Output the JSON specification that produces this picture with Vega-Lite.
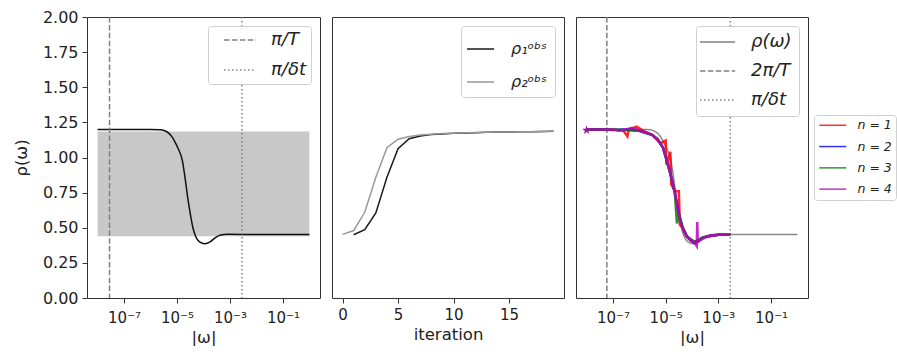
{
  "$schema": "https://vega.github.io/schema/vega-lite/v6.json",
  "padding": {"left": 12, "top": 8, "right": 0, "bottom": 0},
  "background": "white",
  "bounds": "flush",
  "spacing": 12,
  "resolve": {"scale": {"color": "independent", "strokeDash": "independent"}, "legend": {"color": "independent", "strokeDash": "independent"}},
  "config": {
    "font": "DejaVu Sans",
    "view": {"stroke": "#333333", "strokeWidth": 1},
    "axis": {"domain": false, "grid": false, "labelOverlap": false, "labelFont": "DejaVu Sans", "labelFontSize": 15, "labelColor": "#222222", "tickColor": "#333333", "tickSize": 5, "labelPadding": 4, "titleFont": "DejaVu Sans", "titleFontSize": 16.5, "titleFontWeight": "normal", "titleColor": "#222222"},
    "legend": {"labelFont": "DejaVu Sans", "labelFontSize": 18, "labelFontStyle": "italic", "labelColor": "#222222", "fillColor": "white", "strokeColor": "#d0d0d0", "cornerRadius": 3, "padding": 7, "symbolStrokeWidth": 1.5, "symbolSize": 256}
  },
  "datasets": {
    "curve": [
      {"w": 1e-8, "rho": 1.2}, {"w": 1e-7, "rho": 1.2}, {"w": 3.162e-7, "rho": 1.2}, {"w": 1e-6, "rho": 1.2},
      {"w": 2.291e-6, "rho": 1.198}, {"w": 3.981e-6, "rho": 1.185}, {"w": 6.31e-6, "rho": 1.15}, {"w": 8.913e-6, "rho": 1.1},
      {"w": 1.122e-5, "rho": 1.06}, {"w": 1.585e-5, "rho": 0.98}, {"w": 1.995e-5, "rho": 0.86}, {"w": 2.512e-5, "rho": 0.72},
      {"w": 3.162e-5, "rho": 0.6}, {"w": 3.981e-5, "rho": 0.5}, {"w": 5.012e-5, "rho": 0.44}, {"w": 7.079e-5, "rho": 0.4},
      {"w": 1.122e-4, "rho": 0.387}, {"w": 1.778e-4, "rho": 0.4}, {"w": 2.818e-4, "rho": 0.43}, {"w": 4.467e-4, "rho": 0.448},
      {"w": 7.943e-4, "rho": 0.453}, {"w": 3.162e-3, "rho": 0.452}, {"w": 0.1, "rho": 0.452}, {"w": 1, "rho": 0.452}
    ],
    "iters": [
      {"it": 1, "rho": 0.45, "s": "ρ₁ᵒᵇˢ"}, {"it": 2, "rho": 0.486, "s": "ρ₁ᵒᵇˢ"}, {"it": 3, "rho": 0.605, "s": "ρ₁ᵒᵇˢ"}, {"it": 4, "rho": 0.86, "s": "ρ₁ᵒᵇˢ"},
      {"it": 5, "rho": 1.063, "s": "ρ₁ᵒᵇˢ"}, {"it": 6, "rho": 1.134, "s": "ρ₁ᵒᵇˢ"}, {"it": 7, "rho": 1.153, "s": "ρ₁ᵒᵇˢ"}, {"it": 8, "rho": 1.163, "s": "ρ₁ᵒᵇˢ"},
      {"it": 9, "rho": 1.168, "s": "ρ₁ᵒᵇˢ"}, {"it": 10, "rho": 1.172, "s": "ρ₁ᵒᵇˢ"}, {"it": 11, "rho": 1.175, "s": "ρ₁ᵒᵇˢ"}, {"it": 12, "rho": 1.177, "s": "ρ₁ᵒᵇˢ"},
      {"it": 13, "rho": 1.179, "s": "ρ₁ᵒᵇˢ"}, {"it": 14, "rho": 1.181, "s": "ρ₁ᵒᵇˢ"}, {"it": 15, "rho": 1.182, "s": "ρ₁ᵒᵇˢ"}, {"it": 16, "rho": 1.183, "s": "ρ₁ᵒᵇˢ"},
      {"it": 17, "rho": 1.184, "s": "ρ₁ᵒᵇˢ"}, {"it": 18, "rho": 1.185, "s": "ρ₁ᵒᵇˢ"}, {"it": 19, "rho": 1.186, "s": "ρ₁ᵒᵇˢ"},
      {"it": 0, "rho": 0.453, "s": "ρ₂ᵒᵇˢ"}, {"it": 1, "rho": 0.48, "s": "ρ₂ᵒᵇˢ"}, {"it": 2, "rho": 0.61, "s": "ρ₂ᵒᵇˢ"}, {"it": 3, "rho": 0.86, "s": "ρ₂ᵒᵇˢ"},
      {"it": 4, "rho": 1.07, "s": "ρ₂ᵒᵇˢ"}, {"it": 5, "rho": 1.13, "s": "ρ₂ᵒᵇˢ"}, {"it": 6, "rho": 1.15, "s": "ρ₂ᵒᵇˢ"}, {"it": 7, "rho": 1.16, "s": "ρ₂ᵒᵇˢ"},
      {"it": 8, "rho": 1.166, "s": "ρ₂ᵒᵇˢ"}, {"it": 9, "rho": 1.17, "s": "ρ₂ᵒᵇˢ"}, {"it": 10, "rho": 1.173, "s": "ρ₂ᵒᵇˢ"}, {"it": 11, "rho": 1.176, "s": "ρ₂ᵒᵇˢ"},
      {"it": 12, "rho": 1.178, "s": "ρ₂ᵒᵇˢ"}, {"it": 13, "rho": 1.18, "s": "ρ₂ᵒᵇˢ"}, {"it": 14, "rho": 1.181, "s": "ρ₂ᵒᵇˢ"}, {"it": 15, "rho": 1.182, "s": "ρ₂ᵒᵇˢ"},
      {"it": 16, "rho": 1.183, "s": "ρ₂ᵒᵇˢ"}, {"it": 17, "rho": 1.184, "s": "ρ₂ᵒᵇˢ"}, {"it": 18, "rho": 1.185, "s": "ρ₂ᵒᵇˢ"}, {"it": 19, "rho": 1.186, "s": "ρ₂ᵒᵇˢ"}
    ],
    "noisy": [
      {"w": 1e-8, "rho": 1.2, "n": "n = 1"}, {"w": 3.162e-8, "rho": 1.2, "n": "n = 1"}, {"w": 1e-7, "rho": 1.2, "n": "n = 1"},
      {"w": 2.512e-7, "rho": 1.19, "n": "n = 1"}, {"w": 3.548e-7, "rho": 1.15, "n": "n = 1"}, {"w": 3.981e-7, "rho": 1.2, "n": "n = 1"},
      {"w": 7.943e-7, "rho": 1.22, "n": "n = 1"}, {"w": 1.585e-6, "rho": 1.185, "n": "n = 1"}, {"w": 3.162e-6, "rho": 1.16, "n": "n = 1"},
      {"w": 6.31e-6, "rho": 1.1, "n": "n = 1"}, {"w": 1e-5, "rho": 1.12, "n": "n = 1"}, {"w": 1.072e-5, "rho": 0.95, "n": "n = 1"},
      {"w": 1.514e-5, "rho": 1.04, "n": "n = 1"}, {"w": 1.622e-5, "rho": 0.81, "n": "n = 1"}, {"w": 2.239e-5, "rho": 0.76, "n": "n = 1"},
      {"w": 3.162e-5, "rho": 0.76, "n": "n = 1"}, {"w": 3.467e-5, "rho": 0.52, "n": "n = 1"}, {"w": 4.467e-5, "rho": 0.5, "n": "n = 1"},
      {"w": 6.31e-5, "rho": 0.44, "n": "n = 1"}, {"w": 8.913e-5, "rho": 0.41, "n": "n = 1"}, {"w": 1.259e-4, "rho": 0.4, "n": "n = 1"},
      {"w": 1.778e-4, "rho": 0.41, "n": "n = 1"}, {"w": 2.512e-4, "rho": 0.43, "n": "n = 1"}, {"w": 3.981e-4, "rho": 0.44, "n": "n = 1"},
      {"w": 1e-3, "rho": 0.45, "n": "n = 1"}, {"w": 2.818e-3, "rho": 0.45, "n": "n = 1"},
      {"w": 1e-8, "rho": 1.2, "n": "n = 2"}, {"w": 3.162e-8, "rho": 1.2, "n": "n = 2"}, {"w": 1e-7, "rho": 1.195, "n": "n = 2"},
      {"w": 3.162e-7, "rho": 1.2, "n": "n = 2"}, {"w": 1e-6, "rho": 1.19, "n": "n = 2"}, {"w": 3.162e-6, "rho": 1.16, "n": "n = 2"},
      {"w": 5.012e-6, "rho": 1.13, "n": "n = 2"}, {"w": 7.943e-6, "rho": 1.07, "n": "n = 2"}, {"w": 1.122e-5, "rho": 0.97, "n": "n = 2"},
      {"w": 1.585e-5, "rho": 0.87, "n": "n = 2"}, {"w": 2.239e-5, "rho": 0.75, "n": "n = 2"}, {"w": 3.162e-5, "rho": 0.6, "n": "n = 2"},
      {"w": 4.467e-5, "rho": 0.5, "n": "n = 2"}, {"w": 6.31e-5, "rho": 0.44, "n": "n = 2"}, {"w": 8.913e-5, "rho": 0.41, "n": "n = 2"},
      {"w": 1.259e-4, "rho": 0.39, "n": "n = 2"}, {"w": 1.778e-4, "rho": 0.41, "n": "n = 2"}, {"w": 2.512e-4, "rho": 0.43, "n": "n = 2"},
      {"w": 3.981e-4, "rho": 0.44, "n": "n = 2"}, {"w": 1e-3, "rho": 0.45, "n": "n = 2"}, {"w": 2.818e-3, "rho": 0.45, "n": "n = 2"},
      {"w": 1e-8, "rho": 1.2, "n": "n = 3"}, {"w": 1e-7, "rho": 1.2, "n": "n = 3"}, {"w": 1e-6, "rho": 1.19, "n": "n = 3"},
      {"w": 3.162e-6, "rho": 1.16, "n": "n = 3"}, {"w": 5.012e-6, "rho": 1.13, "n": "n = 3"}, {"w": 7.943e-6, "rho": 1.07, "n": "n = 3"},
      {"w": 1.122e-5, "rho": 0.97, "n": "n = 3"}, {"w": 1.585e-5, "rho": 0.87, "n": "n = 3"}, {"w": 2.239e-5, "rho": 0.75, "n": "n = 3"},
      {"w": 2.512e-5, "rho": 0.61, "n": "n = 3"}, {"w": 2.692e-5, "rho": 0.53, "n": "n = 3"}, {"w": 3.162e-5, "rho": 0.6, "n": "n = 3"},
      {"w": 4.467e-5, "rho": 0.5, "n": "n = 3"}, {"w": 6.31e-5, "rho": 0.44, "n": "n = 3"}, {"w": 1.259e-4, "rho": 0.4, "n": "n = 3"},
      {"w": 2.512e-4, "rho": 0.43, "n": "n = 3"}, {"w": 1e-3, "rho": 0.45, "n": "n = 3"}, {"w": 2.818e-3, "rho": 0.45, "n": "n = 3"},
      {"w": 1e-8, "rho": 1.2, "n": "n = 4"}, {"w": 1.585e-8, "rho": 1.2, "n": "n = 4"}, {"w": 3.162e-8, "rho": 1.2, "n": "n = 4"},
      {"w": 6.31e-8, "rho": 1.2, "n": "n = 4"}, {"w": 1e-7, "rho": 1.2, "n": "n = 4"}, {"w": 1.585e-7, "rho": 1.19, "n": "n = 4"},
      {"w": 3.162e-7, "rho": 1.2, "n": "n = 4"}, {"w": 5.012e-7, "rho": 1.21, "n": "n = 4"}, {"w": 7.943e-7, "rho": 1.2, "n": "n = 4"},
      {"w": 1e-6, "rho": 1.19, "n": "n = 4"}, {"w": 1.585e-6, "rho": 1.18, "n": "n = 4"}, {"w": 2.512e-6, "rho": 1.17, "n": "n = 4"},
      {"w": 3.162e-6, "rho": 1.16, "n": "n = 4"}, {"w": 5.012e-6, "rho": 1.13, "n": "n = 4"}, {"w": 6.31e-6, "rho": 1.1, "n": "n = 4"},
      {"w": 7.943e-6, "rho": 1.07, "n": "n = 4"}, {"w": 1e-5, "rho": 1.01, "n": "n = 4"}, {"w": 1.259e-5, "rho": 0.95, "n": "n = 4"},
      {"w": 1.585e-5, "rho": 0.87, "n": "n = 4"}, {"w": 1.995e-5, "rho": 0.79, "n": "n = 4"}, {"w": 2.512e-5, "rho": 0.7, "n": "n = 4"},
      {"w": 3.162e-5, "rho": 0.59, "n": "n = 4"}, {"w": 3.981e-5, "rho": 0.52, "n": "n = 4"}, {"w": 5.012e-5, "rho": 0.47, "n": "n = 4"},
      {"w": 6.31e-5, "rho": 0.44, "n": "n = 4"}, {"w": 7.943e-5, "rho": 0.42, "n": "n = 4"}, {"w": 1e-4, "rho": 0.405, "n": "n = 4"},
      {"w": 1.259e-4, "rho": 0.395, "n": "n = 4"}, {"w": 1.514e-4, "rho": 0.37, "n": "n = 4"}, {"w": 1.585e-4, "rho": 0.54, "n": "n = 4"},
      {"w": 1.66e-4, "rho": 0.4, "n": "n = 4"}, {"w": 1.995e-4, "rho": 0.41, "n": "n = 4"}, {"w": 2.512e-4, "rho": 0.42, "n": "n = 4"},
      {"w": 3.162e-4, "rho": 0.43, "n": "n = 4"}, {"w": 3.981e-4, "rho": 0.44, "n": "n = 4"}, {"w": 6.31e-4, "rho": 0.445, "n": "n = 4"},
      {"w": 1e-3, "rho": 0.45, "n": "n = 4"}, {"w": 1.585e-3, "rho": 0.45, "n": "n = 4"}, {"w": 2.818e-3, "rho": 0.45, "n": "n = 4"}
    ]
  },
  "hconcat": [
    {
      "width": 233, "height": 281,
      "layer": [
        {
          "data": {"values": [{"a": 1e-8, "b": 1, "lo": 0.44, "hi": 1.185}]},
          "mark": {"type": "rect", "color": "#c8c8c8"},
          "encoding": {
            "x": {"field": "a", "type": "quantitative", "scale": {"type": "log", "domain": [3.98e-9, 2.512], "nice": false},
              "axis": {"title": "|ω|", "values": [1e-7, 1e-5, 1e-3, 1e-1], "labelPadding": 7, "labelExpr": "datum.value < 1e-6 ? '10⁻⁷' : datum.value < 1e-4 ? '10⁻⁵' : datum.value < 1e-2 ? '10⁻³' : '10⁻¹'"}},
            "x2": {"field": "b"},
            "y": {"field": "lo", "type": "quantitative", "scale": {"domain": [0, 2], "nice": false},
              "axis": {"title": "ρ(ω)", "values": [0, 0.25, 0.5, 0.75, 1, 1.25, 1.5, 1.75, 2], "format": ".2f", "titlePadding": 13, "labelFontSize": 16}},
            "y2": {"field": "hi"}
          }
        },
        {
          "data": {"name": "curve"},
          "mark": {"type": "line", "color": "#111111", "strokeWidth": 1.5, "interpolate": "monotone"},
          "encoding": {
            "x": {"field": "w", "type": "quantitative"},
            "y": {"field": "rho", "type": "quantitative", "axis": {"title": "ρ(ω)", "values": [0, 0.25, 0.5, 0.75, 1, 1.25, 1.5, 1.75, 2], "format": ".2f", "titlePadding": 13, "labelFontSize": 16}}
          }
        },
        {
          "data": {"values": [{"w": 2.82e-8, "k": "π/T"}, {"w": 2.82e-3, "k": "π/δt"}]},
          "mark": {"type": "rule", "color": "#808080", "strokeWidth": 1.5},
          "encoding": {
            "x": {"field": "w", "type": "quantitative"},
            "strokeDash": {"field": "k", "type": "nominal", "scale": {"domain": ["π/T", "π/δt"], "range": [[5.5, 2.4], [1.5, 2.5]]},
              "legend": {"title": null, "orient": "top-right", "offset": 9, "symbolType": "M0.25,0H4.25", "symbolStrokeColor": "#808080", "padding": 5, "labelOffset": 40, "rowPadding": 12}}
          }
        }
      ]
    },
    {
      "width": 232, "height": 281,
      "data": {"name": "iters"},
      "mark": {"type": "line", "strokeWidth": 1.5},
      "encoding": {
        "x": {"field": "it", "type": "quantitative", "scale": {"domain": [-0.95, 19.95], "nice": false}, "axis": {"title": "iteration", "values": [0, 5, 10, 15]}},
        "y": {"field": "rho", "type": "quantitative", "scale": {"domain": [0, 2], "nice": false}, "axis": null},
        "color": {"field": "s", "type": "nominal", "scale": {"domain": ["ρ₁ᵒᵇˢ", "ρ₂ᵒᵇˢ"], "range": ["#1a1a1a", "#999999"]},
          "legend": {"title": null, "orient": "top-right", "offset": 9, "symbolSize": 900, "symbolType": "M-1.13,0H0.67", "padding": 7, "labelOffset": 11, "rowPadding": 9, "labelFontSize": 16}}
      }
    },
    {
      "width": 232, "height": 281,
      "layer": [
        {
          "data": {"name": "curve"},
          "transform": [{"calculate": "'ρ(ω)'", "as": "k"}],
          "mark": {"type": "line", "color": "#888888", "strokeWidth": 1.5, "interpolate": "monotone"},
          "encoding": {
            "x": {"field": "w", "type": "quantitative", "scale": {"type": "log", "domain": [3.98e-9, 2.512], "nice": false},
              "axis": {"title": "|ω|", "values": [1e-7, 1e-5, 1e-3, 1e-1], "labelPadding": 7, "labelExpr": "datum.value < 1e-6 ? '10⁻⁷' : datum.value < 1e-4 ? '10⁻⁵' : datum.value < 1e-2 ? '10⁻³' : '10⁻¹'"}},
            "y": {"field": "rho", "type": "quantitative", "scale": {"domain": [0, 2], "nice": false}, "axis": null},
            "strokeDash": {"field": "k", "type": "nominal", "scale": {"domain": ["ρ(ω)", "2π/T", "π/δt"], "range": [[1, 0], [5.5, 2.4], [1.5, 2.5]]},
              "legend": {"title": null, "orient": "top-right", "offset": 9, "symbolType": "M-1.5,0H2.9", "symbolStrokeColor": "#888888", "padding": 7, "labelOffset": 30, "rowPadding": 11}}
          }
        },
        {
          "data": {"values": [{"w": 5.9e-8, "k": "2π/T"}, {"w": 2.82e-3, "k": "π/δt"}]},
          "mark": {"type": "rule", "color": "#808080", "strokeWidth": 1.5},
          "encoding": {
            "x": {"field": "w", "type": "quantitative"},
            "strokeDash": {"field": "k", "type": "nominal"}
          }
        },
        {
          "data": {"name": "noisy"},
          "mark": {"type": "line", "strokeWidth": 2.5, "opacity": 0.85},
          "encoding": {
            "x": {"field": "w", "type": "quantitative"},
            "y": {"field": "rho", "type": "quantitative"},
            "color": {"field": "n", "type": "nominal", "scale": {"domain": ["n = 1", "n = 2", "n = 3", "n = 4"], "range": ["#ff0000", "#0000ff", "#008000", "#bf00bf"]},
              "legend": {"title": null, "orient": "none", "legendX": 238, "legendY": 98, "labelFontSize": 12.5, "symbolType": "M-1,0H4.4", "symbolSize": 100, "rowPadding": 8.3, "padding": 4, "labelOffset": 27, "symbolOpacity": 0.8}}
          }
        },
        {
          "data": {"values": [{"w": 1e-8, "rho": 1.195}]},
          "mark": {"type": "point", "shape": "M0,-1L0.2245,-0.309L0.951,-0.309L0.363,0.118L0.588,0.809L0,0.382L-0.588,0.809L-0.363,0.118L-0.951,-0.309L-0.2245,-0.309Z", "filled": true, "color": "#8e1c9c", "size": 90, "opacity": 1},
          "encoding": {
            "x": {"field": "w", "type": "quantitative"},
            "y": {"field": "rho", "type": "quantitative"}
          }
        }
      ]
    }
  ]
}
